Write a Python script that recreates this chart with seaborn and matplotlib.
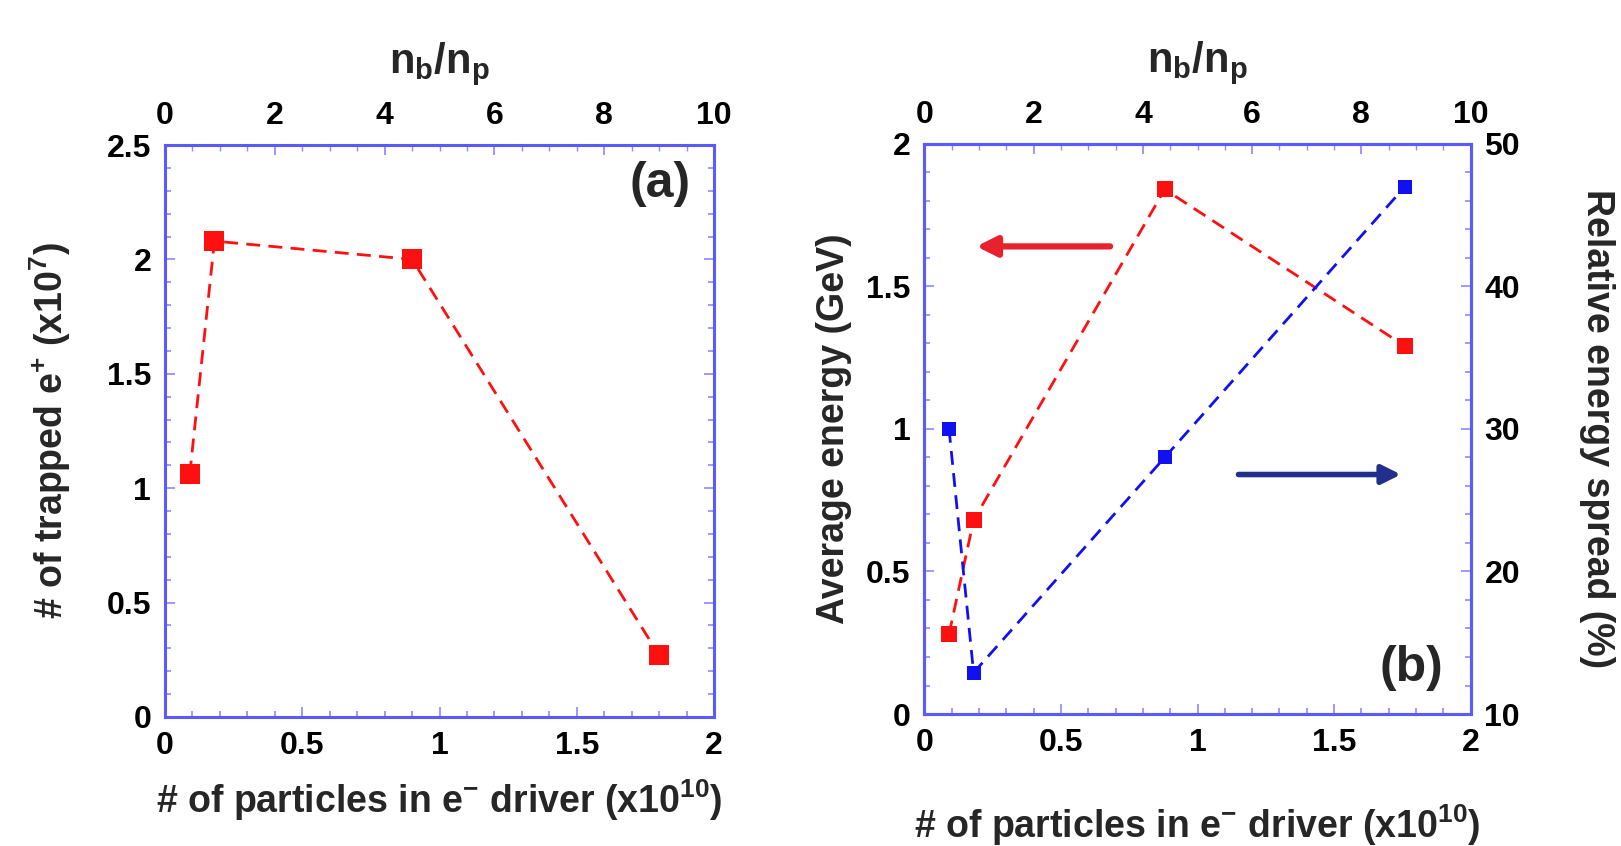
import matplotlib
matplotlib.use("Agg")
import matplotlib.pyplot as plt
from matplotlib.ticker import MultipleLocator
import seaborn as sns
import pandas as pd

# ---- data -------------------------------------------------------------
# (a) trapped positrons vs. driver charge
drive_a = [0.09, 0.18, 0.90, 1.80]          # particles in e- driver (x1e10)
trapped = [1.06, 2.08, 2.00, 0.27]          # trapped e+ (x1e7)

# (b) average energy and relative spread vs. driver charge
drive_b = [0.09, 0.18, 0.88, 1.76]
avg_energy = [0.28, 0.68, 1.84, 1.29]       # GeV
energy_spread = [30.0, 12.9, 28.0, 47.0]    # %

ratio_ticks = [0, 2, 4, 6, 8, 10]           # n_b/n_p  (= 5 x driver charge)

# ---- style ------------------------------------------------------------
sns.set_theme(style="white")
FONT = ["Liberation Sans", "DejaVu Sans"]
plt.rcParams["font.family"] = FONT
plt.rcParams["font.weight"] = "bold"
plt.rcParams["mathtext.fontset"] = "custom"
plt.rcParams["mathtext.rm"] = "Liberation Sans:bold"
plt.rcParams["mathtext.it"] = "Liberation Sans:bold"
plt.rcParams["mathtext.bf"] = "Liberation Sans:bold"

FRAME = "#5a5aff"
TICKC = "#8a8aff"
RED = "#ff1010"
BLUE = "#1010f0"
NAVY = "#22308c"
TICK_FS = 23
LABEL_FS = 27
DASH = (0, (5, 3))

fig = plt.figure(figsize=(16.21, 8.46), dpi=100)
axa = fig.add_axes([0.1018, 0.1525, 0.3387, 0.6761])
axb = fig.add_axes([0.5703, 0.1560, 0.3369, 0.6741])


def style_frame(ax):
    for s in ax.spines.values():
        s.set_color(FRAME)
        s.set_linewidth(2.2)
    ax.tick_params(which="both", direction="in", colors=TICKC,
                   labelcolor="black", labelsize=TICK_FS, width=1.2,
                   left=True, right=True, bottom=True, top=False)
    ax.tick_params(which="major", length=7, pad=10)
    ax.tick_params(which="minor", length=4)


def add_top_axis(ax):
    sec = ax.secondary_xaxis("top", functions=(lambda x: x * 5, lambda x: x / 5))
    sec.set_xticks(ratio_ticks)
    sec.xaxis.set_minor_locator(MultipleLocator(0.5))
    sec.spines["top"].set_visible(False)
    sec.tick_params(which="both", direction="in", colors=TICKC,
                    labelcolor="black", labelsize=TICK_FS, pad=10)
    sec.tick_params(which="major", length=7)
    sec.tick_params(which="minor", length=4)
    sec.set_xlabel(r"n$_\mathregular{b}$/n$_\mathregular{p}$",
                   fontsize=30, fontweight="bold", labelpad=20)
    return sec


fmt = plt.FuncFormatter(lambda v, p: f"{v:g}")

# ---- panel (a) ---------------------------------------------------------
df_a = pd.DataFrame({"drive": drive_a, "trapped": trapped})
sns.lineplot(data=df_a, x="drive", y="trapped", ax=axa, sort=False,
             color=RED, linestyle=DASH, linewidth=2.0,
             marker="s", markersize=14, markeredgewidth=0)
axa.set_xlim(0, 2)
axa.set_ylim(0, 2.5)
axa.xaxis.set_major_locator(MultipleLocator(0.5))
axa.xaxis.set_minor_locator(MultipleLocator(0.1))
axa.yaxis.set_major_locator(MultipleLocator(0.5))
axa.yaxis.set_minor_locator(MultipleLocator(0.1))
axa.xaxis.set_major_formatter(fmt)
axa.yaxis.set_major_formatter(fmt)
style_frame(axa)
axa.set_xlabel(r"# of particles in e$^{-}$ driver (x10$^{10}$)",
               fontsize=LABEL_FS, fontweight="bold", labelpad=12)
axa.set_ylabel(r"# of trapped e$^{+}$ (x10$^{7}$)",
               fontsize=LABEL_FS, fontweight="bold", labelpad=24)
add_top_axis(axa)
axa.text(1.915, 2.33, "(a)", fontsize=36, fontweight="bold",
         ha="right", va="center")

# ---- panel (b) ---------------------------------------------------------
df_b = pd.DataFrame({"drive": drive_b, "energy": avg_energy,
                     "spread": energy_spread})
sns.lineplot(data=df_b, x="drive", y="energy", ax=axb, sort=False,
             color=RED, linestyle=DASH, linewidth=2.0,
             marker="s", markersize=11.5, markeredgewidth=0)
axb.set_xlim(0, 2)
axb.set_ylim(0, 2)
axb.xaxis.set_major_locator(MultipleLocator(0.5))
axb.xaxis.set_minor_locator(MultipleLocator(0.1))
axb.yaxis.set_major_locator(MultipleLocator(0.5))
axb.yaxis.set_minor_locator(MultipleLocator(0.1))
axb.xaxis.set_major_formatter(fmt)
axb.yaxis.set_major_formatter(fmt)
style_frame(axb)
axb.tick_params(right=False)
axb.set_xlabel(r"# of particles in e$^{-}$ driver (x10$^{10}$)",
               fontsize=LABEL_FS, fontweight="bold", labelpad=32)
axb.set_ylabel("Average energy (GeV)", fontsize=LABEL_FS,
               fontweight="bold", labelpad=10)
add_top_axis(axb)

axb2 = axb.twinx()
sns.lineplot(data=df_b, x="drive", y="spread", ax=axb2, sort=False,
             color=BLUE, linestyle=DASH, linewidth=2.0,
             marker="s", markersize=10, markeredgewidth=0)
axb2.set_ylim(10, 50)
axb2.yaxis.set_major_locator(MultipleLocator(10))
axb2.yaxis.set_minor_locator(MultipleLocator(2))
for s in axb2.spines.values():
    s.set_color(FRAME)
    s.set_linewidth(2.2)
axb2.tick_params(which="both", direction="in", colors=TICKC,
                 labelcolor="black", labelsize=TICK_FS, width=1.2,
                 right=True, left=False)
axb2.tick_params(which="major", length=7, pad=10)
axb2.tick_params(which="minor", length=4)
axb2.set_ylabel("Relative energy spread (%)", fontsize=LABEL_FS,
                fontweight="bold", rotation=-90, labelpad=68)
axb2.set_xlabel("")

axb.annotate("", xy=(0.19, 1.64), xytext=(0.68, 1.64),
             arrowprops=dict(arrowstyle="-|>", color="#e8222c", lw=4.5,
                             mutation_scale=30, shrinkA=0, shrinkB=0))
axb2.annotate("", xy=(1.745, 26.8), xytext=(1.15, 26.8),
              arrowprops=dict(arrowstyle="-|>", color=NAVY, lw=4,
                              mutation_scale=28, shrinkA=0, shrinkB=0))
axb2.text(1.90, 13.2, "(b)", fontsize=36, fontweight="bold",
          ha="right", va="center")

fig.savefig("out.png", dpi=100, facecolor="white")
